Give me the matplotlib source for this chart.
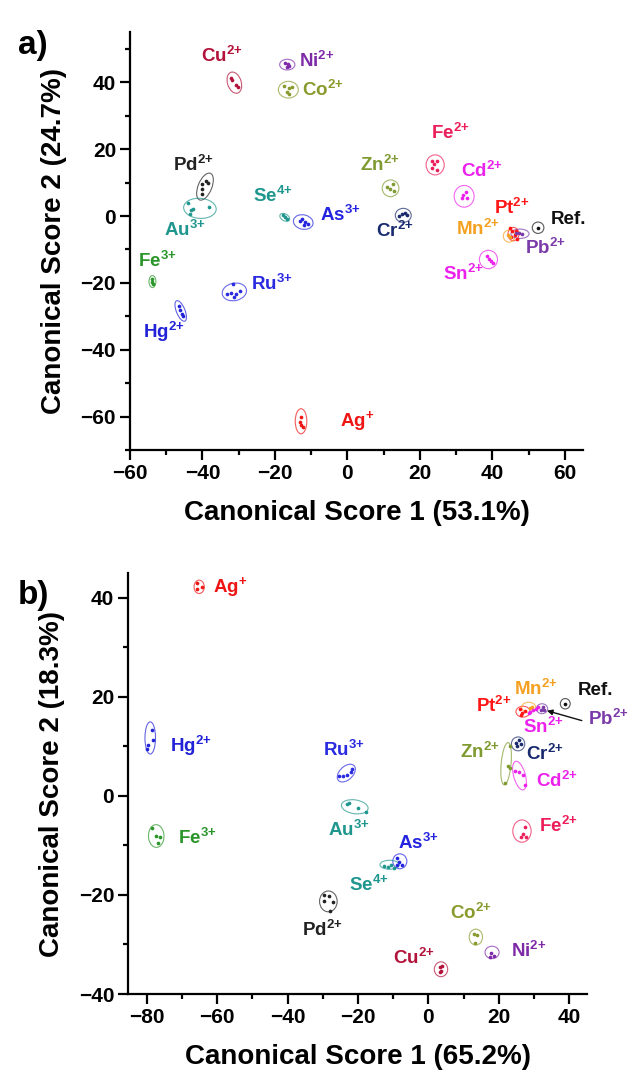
import matplotlib
matplotlib.use('Agg')
import matplotlib.pyplot as plt
from matplotlib.patches import Ellipse
from matplotlib.ticker import MultipleLocator

plt.rcParams['font.family'] = ['Liberation Sans', 'DejaVu Sans']
plt.rcParams['font.weight'] = 'bold'
plt.rcParams['mathtext.default'] = 'regular'

# colours of the ions
colors = {
    'Cu': '#b3123a', 'Ni': '#7e2aa8', 'Co': '#8a9a2c', 'Pd': '#222222',
    'Au': '#1f968e', 'Se': '#1f968e', 'As': '#2424e0', 'Fe3': '#2a962a',
    'Ru': '#2a2ae0', 'Hg': '#2222d8', 'Ag': '#f01515', 'Fe2': '#ec1e5a',
    'Zn': '#7f9a30', 'Cd': '#ec22ec', 'Cr': '#1a2a6e', 'Pt': '#ff1515',
    'Mn': '#f5a020', 'Pb': '#7a3aa8', 'Ref': '#111111', 'Sn': '#ec22ec',
}
names = {
    'Cu': 'Cu$^{2{+}}$', 'Ni': 'Ni$^{2{+}}$', 'Co': 'Co$^{2{+}}$', 'Pd': 'Pd$^{2{+}}$',
    'Au': 'Au$^{3{+}}$', 'Se': 'Se$^{4{+}}$', 'As': 'As$^{3{+}}$', 'Fe3': 'Fe$^{3{+}}$',
    'Ru': 'Ru$^{3{+}}$', 'Hg': 'Hg$^{2{+}}$', 'Ag': 'Ag$^{{+}}$', 'Fe2': 'Fe$^{2{+}}$',
    'Zn': 'Zn$^{2{+}}$', 'Cd': 'Cd$^{2{+}}$', 'Cr': 'Cr$^{2{+}}$', 'Pt': 'Pt$^{2{+}}$',
    'Mn': 'Mn$^{2{+}}$', 'Pb': 'Pb$^{2{+}}$', 'Ref': 'Ref.', 'Sn': 'Sn$^{2{+}}$',
}

# ---- a) scores (score1, score2) per replicate
a_pts = {
    'Cu': [(-32.2, 41.3), (-31.9, 40.6), (-30.8, 39.3), (-30.2, 38.6)],
    'Ni': [(-17.3, 45.8), (-16.4, 45.6), (-16.8, 44.7), (-16.0, 44.9)],
    'Co': [(-17.5, 39.0), (-16.0, 38.2), (-15.2, 38.5), (-16.6, 37.0), (-16.0, 36.4)],
    'Pd': [(-39.0, 10.6), (-38.4, 9.9), (-40.0, 9.5), (-40.2, 8.0), (-40.2, 6.5)],
    'Au': [(-43.9, 4.0), (-43.2, 1.7), (-43.4, 0.7), (-38.1, 2.7), (-42.6, 2.0)],
    'Se': [(-17.8, 0.2), (-17.3, -0.4), (-16.8, -1.0)],
    'As': [(-13.2, -1.5), (-12.4, -1.0), (-11.6, -1.9), (-12.0, -2.6), (-11.0, -2.5)],
    'Fe3': [(-53.9, -18.8), (-53.8, -19.6), (-53.7, -20.3)],
    'Ru': [(-31.5, -20.2), (-33.2, -23.2), (-32.0, -22.9), (-30.8, -23.4), (-29.7, -22.4), (-31.2, -24.2)],
    'Hg': [(-46.6, -26.8), (-46.1, -28.0), (-45.6, -29.3), (-45.3, -30.0)],
    'Ag': [(-12.8, -60.0), (-13.0, -61.7), (-12.7, -62.4), (-12.2, -63.2)],
    'Fe2': [(23.2, 16.6), (24.6, 16.6), (23.2, 14.4), (24.8, 13.9), (24.0, 15.6)],
    'Zn': [(10.8, 8.6), (11.8, 8.0), (12.8, 7.6), (12.6, 9.6)],
    'Cd': [(32.6, 7.3), (32.0, 6.2), (31.5, 5.3), (32.9, 5.5)],
    'Cr': [(14.2, -0.1), (15.0, 0.6), (15.8, 0.9), (16.4, 0.2)],
    'Pt': [(44.8, -3.6), (45.5, -4.6), (46.2, -5.6), (46.9, -6.8), (45.0, -6.4), (46.5, -4.4)],
    'Mn': [(44.4, -5.6), (44.9, -6.2)],
    'Pb': [(46.6, -5.2), (47.4, -5.0), (48.3, -5.5)],
    'Ref': [(52.6, -3.5)],
    'Sn': [(38.6, -12.0), (39.1, -12.8), (39.6, -13.6), (40.2, -14.0)],
}
# confidence ellipses: centre x, centre y, width, height, angle
a_ell = {
    'Cu': (-31.2, 39.9, 3.8, 6.5, 15), 'Ni': (-16.6, 45.3, 4.2, 3.2, 0),
    'Co': (-16.3, 37.8, 5.5, 5.0, 0), 'Pd': (-39.3, 8.8, 3.8, 8.5, -20),
    'Au': (-40.7, 2.3, 9.0, 6.0, -5), 'Se': (-17.3, -0.4, 3.0, 2.0, -35),
    'As': (-12.2, -1.8, 5.5, 4.3, -15), 'Fe3': (-53.8, -19.6, 1.9, 3.6, 0),
    'Ru': (-31.2, -22.7, 6.8, 5.2, 15), 'Hg': (-46.0, -28.4, 2.4, 6.5, 20),
    'Ag': (-12.8, -61.4, 3.2, 7.5, 0), 'Fe2': (24.2, 15.3, 5.0, 6.0, 0),
    'Zn': (11.9, 8.3, 4.6, 5.0, 0), 'Cd': (32.2, 5.9, 5.5, 6.5, 0),
    'Cr': (15.4, 0.2, 4.4, 4.2, 0), 'Pt': (45.8, -5.4, 3.0, 4.0, 0),
    'Mn': (44.6, -6.0, 3.2, 3.6, 0), 'Pb': (47.6, -5.3, 5.0, 2.8, 0),
    'Ref': (52.6, -3.5, 3.2, 3.4, 0), 'Sn': (38.9, -13.0, 5.0, 5.5, 0),
}
a_lab = {
    'Cu': (-34.7, 47.8), 'Ni': (-8.5, 46.5), 'Co': (-6.7, 37.8), 'Pd': (-42.5, 15.4),
    'Au': (-44.8, -4.3), 'Se': (-20.5, 6.0), 'As': (-2.1, 0.2), 'Fe3': (-52.5, -13.4),
    'Ru': (-20.9, -20.2), 'Hg': (-50.8, -34.8), 'Ag': (2.6, -61.2), 'Fe2': (28.3, 24.9),
    'Zn': (9.0, 15.4), 'Cd': (37.0, 13.4), 'Cr': (13.1, -4.5), 'Pt': (45.3, 2.5),
    'Mn': (36.1, -4.0), 'Pb': (54.5, -9.5), 'Ref': (61.0, -1.0), 'Sn': (32.0, -17.4),
}

# ---- b) scores
b_pts = {
    'Ag': [(-65.8, 43.0), (-65.6, 41.8), (-64.2, 42.2)],
    'Hg': [(-78.5, 13.4), (-78.2, 11.2), (-79.5, 10.3), (-79.8, 9.4)],
    'Fe3': [(-78.5, -6.4), (-77.3, -8.1), (-76.7, -9.5), (-76.2, -8.4)],
    'Ru': [(-25.5, 4.0), (-24.3, 4.0), (-23.1, 4.2), (-22.0, 4.8), (-21.7, 5.4)],
    'Au': [(-23.2, -1.7), (-19.9, -2.4), (-17.6, -3.2), (-22.6, -1.4)],
    'As': [(-9.0, -12.5), (-8.2, -13.3), (-7.5, -13.9), (-8.8, -14.0)],
    'Se': [(-12.6, -14.2), (-11.5, -14.3), (-10.5, -14.0), (-9.8, -14.5)],
    'Pd': [(-29.5, -20.0), (-28.3, -20.3), (-27.0, -21.5), (-28.0, -23.2), (-29.6, -21.3)],
    'Co': [(13.1, -27.9), (13.9, -28.0), (13.2, -29.6)],
    'Ni': [(17.8, -31.8), (18.6, -32.3), (17.4, -32.5)],
    'Cu': [(3.3, -34.5), (3.9, -34.4), (3.5, -35.4), (3.2, -35.6)],
    'Fe2': [(27.4, -6.3), (27.0, -7.6), (27.8, -8.4), (26.3, -8.2)],
    'Cr': [(25.2, 10.0), (25.7, 11.2), (26.4, 10.4), (24.9, 10.6)],
    'Zn': [(23.1, 10.0), (22.6, 6.1), (23.1, 5.7), (21.8, 2.6)],
    'Cd': [(24.7, 5.1), (25.9, 4.8), (27.0, 4.2), (27.5, 2.1)],
    'Pt': [(26.0, 17.5), (26.7, 16.8), (27.5, 17.2), (26.4, 16.3)],
    'Mn': [(28.8, 17.7), (29.5, 17.9)],
    'Sn': [(28.6, 16.8), (29.0, 17.0), (29.8, 17.4), (30.6, 17.6), (31.2, 17.9)],
    'Pb': [(31.9, 17.4), (32.6, 17.9), (33.0, 17.3)],
    'Ref': [(38.9, 18.6)],
}
b_ell = {
    'Ag': (-65.1, 42.2, 2.9, 2.7, 0), 'Hg': (-79.0, 11.7, 3.0, 6.5, 0),
    'Fe3': (-77.3, -8.1, 4.4, 4.6, 15), 'Ru': (-23.3, 4.6, 5.5, 3.0, 25),
    'Au': (-20.9, -2.2, 7.6, 2.8, -5), 'As': (-8.1, -13.2, 4.0, 3.0, 0),
    'Se': (-11.0, -13.9, 5.5, 1.8, 0), 'Pd': (-28.4, -21.3, 5.0, 4.2, 0),
    'Co': (13.5, -28.5, 3.8, 3.2, 0), 'Ni': (18.1, -31.6, 4.0, 2.5, 0),
    'Cu': (3.6, -35.0, 3.8, 3.0, 0), 'Fe2': (26.6, -7.1, 5.2, 4.5, 0),
    'Cr': (25.5, 10.5, 3.8, 2.8, 0), 'Zn': (22.1, 6.5, 2.8, 8.6, -8),
    'Cd': (25.9, 4.1, 3.2, 6.2, 25), 'Pt': (26.9, 17.0, 4.0, 2.2, 0),
    'Mn': (28.5, 17.9, 4.0, 2.0, 0), 'Pb': (32.3, 17.6, 3.2, 2.0, 0),
    'Ref': (38.9, 18.6, 2.8, 2.1, 0),
}
b_lab = {
    'Ag': (-56.3, 42.2), 'Hg': (-67.6, 10.0), 'Fe3': (-65.7, -8.4), 'Ru': (-24.1, 9.2),
    'Au': (-22.6, -6.8), 'As': (-2.8, -9.5), 'Se': (-16.8, -17.9), 'Pd': (-30.2, -27.0),
    'Co': (12.1, -23.6), 'Ni': (28.6, -31.4), 'Cu': (-4.0, -32.8), 'Fe2': (36.8, -6.1),
    'Cr': (33.2, 8.5), 'Zn': (14.7, 8.8), 'Cd': (36.5, 3.1), 'Pt': (18.5, 18.2),
    'Mn': (30.4, 21.6), 'Ref': (47.4, 21.3), 'Sn': (32.7, 13.9), 'Pb': (51.2, 15.6),
}


def draw(ax, pts, ell, lab):
    for ion, p in pts.items():
        c = colors[ion]
        xs = [q[0] for q in p]
        ys = [q[1] for q in p]
        ax.scatter(xs, ys, s=7, color=c, zorder=3, linewidths=0)
    for ion, (cx, cy, w, h, ang) in ell.items():
        ax.add_patch(Ellipse((cx, cy), w, h, angle=ang, fill=False,
                             edgecolor=colors[ion], lw=0.8, alpha=0.7, zorder=2))
    for ion, (tx, ty) in lab.items():
        ax.text(tx, ty, names[ion], color=colors[ion], fontsize=13.5,
                fontweight='bold', ha='center', va='center')


def style(ax, xlabel, ylabel):
    for s in ['top', 'right']:
        ax.spines[s].set_visible(False)
    for s in ['left', 'bottom']:
        ax.spines[s].set_linewidth(1.6)
    ax.tick_params(which='major', length=7, width=1.6, pad=3, labelsize=15)
    ax.tick_params(which='minor', length=3.5, width=1.6)
    ax.xaxis.set_major_locator(MultipleLocator(20))
    ax.xaxis.set_minor_locator(MultipleLocator(10))
    ax.yaxis.set_major_locator(MultipleLocator(20))
    ax.yaxis.set_minor_locator(MultipleLocator(10))
    for t in ax.get_xticklabels() + ax.get_yticklabels():
        t.set_fontweight('bold')
    ax.set_xlabel(xlabel, fontsize=20, fontweight='bold', labelpad=12)
    ax.set_ylabel(ylabel, fontsize=20, fontweight='bold', labelpad=10)


fig = plt.figure(figsize=(6.34, 10.73), dpi=100)
ax1 = fig.add_axes([0.205, 0.5806, 0.7146, 0.3894])
ax2 = fig.add_axes([0.202, 0.0736, 0.724, 0.3924])

draw(ax1, a_pts, a_ell, a_lab)
ax1.set_xlim(-60, 65)
ax1.set_ylim(-70, 55)
style(ax1, 'Canonical Score 1 (53.1%)', 'Canonical Score 2 (24.7%)')

draw(ax2, b_pts, b_ell, b_lab)
ax2.annotate('', xy=(33.7, 17.2), xytext=(43.6, 15.2),
             arrowprops=dict(arrowstyle='-|>', color='#111111', lw=1.0,
                             mutation_scale=8, shrinkA=0, shrinkB=0))
ax2.set_xlim(-85.3, 45.1)
ax2.set_ylim(-40, 45)
style(ax2, 'Canonical Score 1 (65.2%)', 'Canonical Score 2 (18.3%)')

fig.text(0.052, 0.958, 'a)', fontsize=24, fontweight='bold', ha='center', va='center')
fig.text(0.052, 0.445, 'b)', fontsize=24, fontweight='bold', ha='center', va='center')

fig.savefig('out.png', dpi=100)
